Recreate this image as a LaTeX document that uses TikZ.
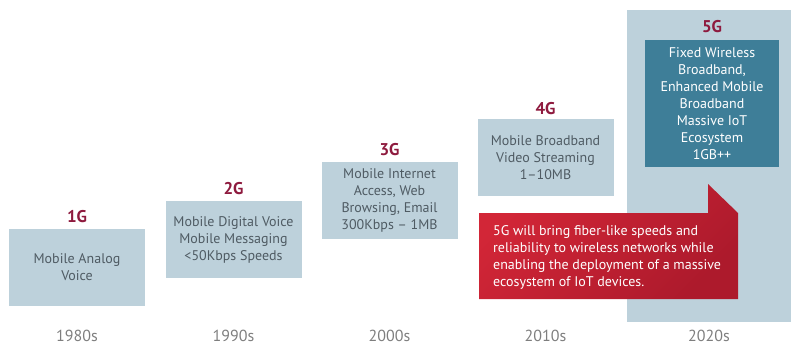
\documentclass[tikz,border=0pt]{standalone}
\usepackage{fontspec}
\setmainfont{PT Sans}
\usetikzlibrary{positioning}
\definecolor{boxblue}{HTML}{BDD1DB}
\definecolor{deepteal}{HTML}{3E7E98}
\definecolor{gentext}{HTML}{4F5B63}
\definecolor{genred}{HTML}{8E1A3E}
\definecolor{arrowred}{HTML}{D22637}
\definecolor{arrowdark}{HTML}{AD1A2C}
\definecolor{yeargray}{HTML}{7E7E7E}

\tikzset{
  genbox/.style={fill=boxblue, text=gentext, minimum width=136pt, minimum height=77pt,
    inner sep=0pt, align=center, font=\fontsize{14}{17}\selectfont},
  genlabel/.style={text=genred, inner sep=0pt, font=\fontsize{17}{19}\selectfont\bfseries},
  yearlabel/.style={text=yeargray, font=\fontsize{16}{18}\selectfont}
}

\begin{document}
\begin{tikzpicture}[x=1pt,y=-1pt]
\useasboundingbox (0,0) rectangle (800,359);
% column behind 5G
\node[fill=boxblue, minimum width=164pt, minimum height=312pt, inner sep=0pt] (col5) at (709,166) {};
% generations
\node[genbox] (g1) at (77,267.5) {Mobile Analog\\Voice};
\node[genbox] (g2) at (233.5,239.5) {Mobile Digital Voice\\Mobile Messaging\\<50Kbps Speeds};
\node[genbox] (g3) at (389.5,200.5) {Mobile Internet\\Access, Web\\Browsing, Email\\300Kbps -- 1MB};
\node[genbox] (g4) at (545.5,157.5) {Mobile Broadband\\Video Streaming\\1--10MB};
\node[genbox, fill=deepteal, text=white, minimum width=134pt, minimum height=127pt] (g5) at (712,103.5)
  {Fixed Wireless\\Broadband,\\Enhanced Mobile\\Broadband\\Massive IoT\\Ecosystem\\1GB++};
\node[genlabel, above=6pt of g1] (l1) {1G};
\node[genlabel, above=6pt of g2] (l2) {2G};
\node[genlabel, above=6pt of g3] (l3) {3G};
\node[genlabel, above=4pt of g4] (l4) {4G};
\node[genlabel, above=7pt of g5] (l5) {5G};
% red arrow
\path[top color=arrowred, bottom color=arrowdark, shading angle=45]
  (479,213) -- (708,213) -- (708,184) -- (738,213) -- (738,299) -- (479,299) -- cycle;
\node[anchor=north west, text=white, align=left, inner sep=0pt,
  font=\fontsize{14}{17}\selectfont] (msg) at (493,225)
  {5G will bring fiber-like speeds and\\reliability to wireless networks while\\enabling the deployment of a massive\\ecosystem of IoT devices.};
% decades
\foreach \yr/\xx in {1980s/77, 1990s/233.5, 2000s/389.5, 2010s/545.5, 2020s/709}
  \node[yearlabel] (yr-\yr) at (\xx,335.5) {\yr};
\end{tikzpicture}
\end{document}
